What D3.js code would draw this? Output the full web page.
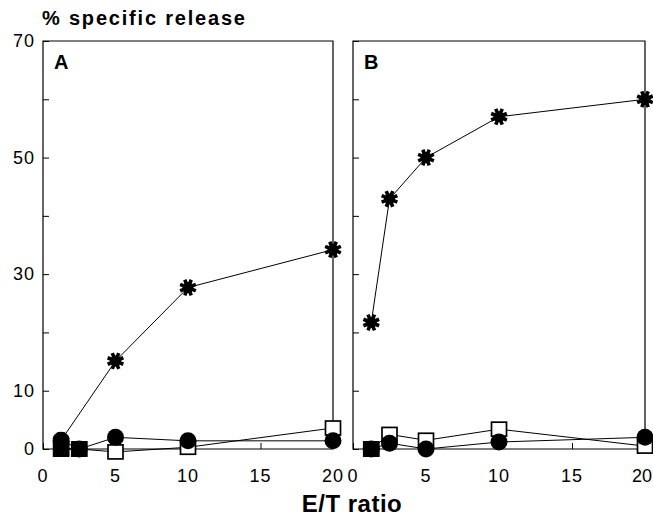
<!DOCTYPE html>
<html>
<head>
<meta charset="utf-8">
<script src="https://cdn.jsdelivr.net/npm/d3@7"></script>
<style>
  html, body { margin: 0; padding: 0; background: #fff; }
  svg { display: block; }
  text { font-family: "Liberation Sans", Arial, Helvetica, sans-serif; fill: #000; }
</style>
</head>
<body>
<svg id="chart" width="653" height="516"></svg>
<script>
// ---- data ----
const etRatio = [1.25, 2.5, 5, 10, 20];
const xTicks = [0, 5, 10, 15, 20];
const yTickValues = [0, 10, 20, 30, 40, 50, 60, 70];
const yTickLabels = [0, 10, 30, 50, 70];
const panelNames = ["A", "B"];

// panel A
const starA     = [1.5, null, 15.1, 27.7, 34.2];
const circleA   = [1.5, 0, 2.0, 1.4, 1.4];
const openSqA   = [0, 0, -0.5, 0.3, 3.6];
const filledSqA = [0, 0, null, null, null];
// panel B
const starB     = [21.7, 42.9, 50.0, 57.0, 60.0];
const circleB   = [0, 1.0, 0, 1.2, 2.0];
const openSqB   = [0, 2.5, 1.5, 3.4, 0.5];
const filledSqB = [0, null, null, null, null];

const panels = [
  { name: panelNames[0], star: starA, circle: circleA, openSq: openSqA, filledSq: filledSqA, x0: 43, x1: 333 },
  { name: panelNames[1], star: starB, circle: circleB, openSq: openSqB, filledSq: filledSqB, x0: 353, x1: 645 }
];

const svg = d3.select("#chart");
const yTop = 41, yBottom = 449;
const y = d3.scaleLinear().domain([0, 70]).range([yBottom, yTop]);

function pts(vals) {
  return etRatio.map((e, i) => ({ e, v: vals[i] })).filter(d => d.v !== null);
}

panels.forEach((p, pi) => {
  const x = d3.scaleLinear().domain([0, 20]).range([p.x0, p.x1]);
  const g = svg.append("g");

  // frame: left axis, top, right, bottom axis
  g.append("path")
    .attr("d", `M${p.x0},${yBottom}V${yTop}H${p.x1}V${yBottom}Z`)
    .attr("fill", "none").attr("stroke", "#000").attr("stroke-width", 1.2);

  // y ticks (inward)
  const yAxis = d3.axisRight(y).tickValues(yTickValues).tickSize(6)
    .tickFormat(d => (pi === 0 && yTickLabels.includes(d)) ? d : "");
  const ya = g.append("g").attr("transform", `translate(${p.x0},0)`).call(yAxis);
  ya.select(".domain").remove();
  ya.selectAll(".tick line").attr("stroke", "#000").attr("stroke-width", 1);
  ya.selectAll(".tick text")
    .attr("x", 35 - p.x0).attr("dx", 0)
    .attr("text-anchor", "end")
    .style("font-size", "18px").style("letter-spacing", "1px");

  // x ticks (inward)
  const xAxis = d3.axisTop(x).tickValues(xTicks).tickSize(6).tickFormat("");
  const xa = g.append("g").attr("transform", `translate(0,${yBottom})`).call(xAxis);
  xa.select(".domain").remove();
  xa.selectAll(".tick line").attr("stroke", "#000").attr("stroke-width", 1);
  // x tick labels
  const lastPanel = pi === panels.length - 1;
  g.selectAll("text.xl").data(xTicks).join("text")
    .attr("class", "xl")
    .attr("x", d => (lastPanel && d === 20) ? 652 : x(d))
    .attr("y", 482)
    .attr("text-anchor", d => (lastPanel && d === 20) ? "end" : "middle")
    .style("font-size", "18px").style("letter-spacing", d => (lastPanel && d === 20) ? "0px" : "1px")
    .text(d => d);

  // panel letter
  g.append("text").attr("x", p.x0 + 11).attr("y", 69)
    .style("font-size", "20px").style("font-weight", "bold")
    .text(p.name);

  const line = d3.line().x(d => x(d.e)).y(d => y(d.v));
  [p.openSq, p.circle, p.filledSq, p.star].forEach(s => {
    g.append("path").attr("d", line(pts(s)))
      .attr("fill", "none").attr("stroke", "#000").attr("stroke-width", 1);
  });

  // stars (drawn first so circles can cover them)
  const starG = g.selectAll("g.star").data(pts(p.star)).join("g")
    .attr("class", "star")
    .attr("transform", d => `translate(${x(d.e)},${y(d.v)})`);
  starG.append("path")
    .attr("d", () => {
      let s = "";
      for (let k = 0; k < 4; k++) {
        const a = k * Math.PI / 4 + Math.PI / 8;
        const dx = 8.5 * Math.cos(a), dy = 8.5 * Math.sin(a);
        s += `M${-dx},${-dy}L${dx},${dy}`;
      }
      return s;
    })
    .attr("stroke", "#000").attr("stroke-width", 3.6).attr("stroke-linecap", "butt");
  starG.append("circle").attr("r", 5.5).attr("fill", "#000");

  // open squares
  g.selectAll("rect.osq").data(pts(p.openSq)).join("rect")
    .attr("class", "osq")
    .attr("x", d => x(d.e) - 7.5).attr("y", d => y(d.v) - 7)
    .attr("width", 15).attr("height", 14)
    .attr("fill", "#fff").attr("stroke", "#000").attr("stroke-width", 1.7);

  // filled circles
  g.selectAll("circle.fc").data(pts(p.circle)).join("circle")
    .attr("class", "fc")
    .attr("cx", d => x(d.e)).attr("cy", d => y(d.v)).attr("r", 8.5)
    .attr("fill", "#000");

  // filled squares
  g.selectAll("rect.fsq").data(pts(p.filledSq)).join("rect")
    .attr("class", "fsq")
    .attr("x", d => x(d.e) - 8).attr("y", d => y(d.v) - 8)
    .attr("width", 16).attr("height", 16)
    .attr("fill", "#000");
});

// titles
svg.append("text").attr("x", 42).attr("y", 25)
  .style("font-size", "20px").style("font-weight", "bold").style("letter-spacing", "1.8px")
  .text("% specific release");

svg.append("text").attr("x", 352).attr("y", 512)
  .attr("text-anchor", "middle")
  .style("font-size", "24px").style("font-weight", "bold").style("letter-spacing", "0.5px")
  .text("E/T ratio");
</script>
</body>
</html>
